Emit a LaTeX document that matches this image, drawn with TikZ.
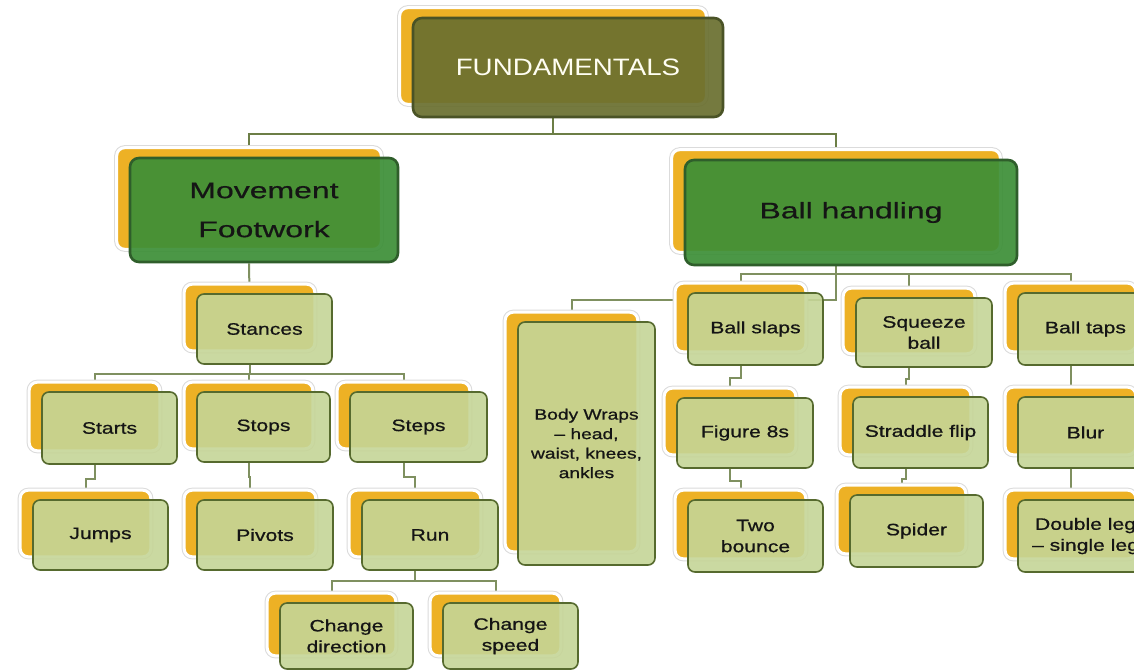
\documentclass[tikz,border=0pt]{standalone}
\usepackage{fontspec}
\setmainfont{Liberation Sans}
\newfontfamily\smallfont[FakeStretch=1.28,FakeBold=0.8]{Liberation Sans}
\newfontfamily\headfont[FakeStretch=1.42,FakeBold=0.6]{Liberation Sans}
\newfontfamily\topfont[FakeStretch=1.17]{Liberation Sans}
\usetikzlibrary{calc}

\pgfdeclarelayer{paper}
\pgfdeclarelayer{wires}
\pgfdeclarelayer{cards}
\pgfsetlayers{paper,wires,cards,main}

\definecolor{gold}{HTML}{EDB125}
\definecolor{leaf}{HTML}{C5D597}
\definecolor{leafedge}{HTML}{566A2E}
\definecolor{grass}{HTML}{3C8F37}
\definecolor{grassedge}{HTML}{2F5E2B}
\definecolor{olive}{HTML}{6A6F2F}
\definecolor{oliveedge}{HTML}{4A5326}
\definecolor{wirecol}{HTML}{7F9060}
\definecolor{topwire}{HTML}{6C7E46}
\definecolor{ink}{HTML}{151515}

\tikzset{
  x=1pt, y=-1pt,
  leafbox/.style={rectangle, rounded corners=7pt, draw=leafedge, line width=1.6pt,
    fill=leaf, fill opacity=0.9, text opacity=1, text=ink, align=center, inner sep=0pt,
    font=\smallfont\fontsize{16.5}{21}\selectfont},
  bodybox/.style={leafbox, font=\smallfont\fontsize{15}{19.5}\selectfont},
  grassbox/.style={rectangle, rounded corners=9pt, draw=grassedge, line width=2.6pt,
    fill=grass, fill opacity=0.92, text opacity=1, text=ink, align=center, inner sep=0pt,
    font=\headfont\fontsize{22.5}{39}\selectfont},
  topbox/.style={rectangle, rounded corners=9pt, draw=oliveedge, line width=2.6pt,
    fill=olive, fill opacity=0.92, text opacity=1, text=white!95!yellow, align=center, inner sep=0pt,
    font=\topfont\fontsize{23.7}{28}\selectfont},
  goldcard/.style={fill=gold, rounded corners=8pt, draw=white, line width=3pt,
    preaction={draw=black!14, line width=5pt}},
  wire/.style={draw=wirecol, line width=2pt},
  topline/.style={wire, draw=topwire},
}

% #1 style, #2 name, #3 x, #4 y, #5 width, #6 height, #7 text
\newcommand\card[7]{%
  \node[#1, minimum width=#5pt, minimum height=#6pt] (#2) at (#3,#4) {#7};
  \coordinate (#2-t) at ($(#2.north)+(-15,0)$);
  \coordinate (#2-b) at ($(#2.south)+(-15,0)$);
  \begin{pgfonlayer}{cards}
    \path[goldcard] ($(#2.north west)+(-12,-9)$) rectangle ($(#2.south east)+(-18,-14)$);
  \end{pgfonlayer}}

% stepped link from a parent's foot to a child's head
\newcommand\zlink[2]{\draw[wire] (#1-b) |- ($(#1-b)!0.4!(#2-t)$) -| (#2-t);}

\begin{document}
\begin{tikzpicture}
\useasboundingbox (0,0) rectangle (1134,670);
\begin{pgfonlayer}{paper}
  \fill[white] (0,0) rectangle (1134,670);
\end{pgfonlayer}

% top level
\card{topbox}{fund}{568}{67.5}{310}{99}{FUNDAMENTALS}
\card{grassbox}{move}{264}{210}{268}{104}{Movement\\Footwork}
\card{grassbox}{ball}{851}{212.5}{332}{105}{Ball handling}

% movement branch
\card{leafbox}{stances}{264.5}{329}{135}{70}{Stances}
\card{leafbox}{starts}{109.5}{428}{135}{72}{Starts}
\card{leafbox}{stops}{263.5}{427}{133}{70}{Stops}
\card{leafbox}{steps}{418.5}{427}{137}{70}{Steps}
\card{leafbox}{jumps}{100.5}{535}{135}{70}{Jumps}
\card{leafbox}{pivots}{265}{535}{136}{70}{Pivots}
\card{leafbox}{run}{430}{535}{136}{70}{Run}
\card{leafbox}{chdir}{346.5}{636}{133}{66}{Change\\direction}
\card{leafbox}{chspeed}{510.5}{636}{135}{66}{Change\\speed}

% ball handling branch
\card{bodybox}{body}{586.5}{443.5}{137}{243}{Body Wraps\\– head,\\waist, knees,\\ankles}
\card{leafbox}{slaps}{755.5}{329}{135}{72}{Ball slaps}
\card{leafbox}{fig}{745}{433}{136}{70}{Figure 8s}
\card{leafbox}{two}{755.5}{536}{135}{72}{Two\\bounce}
\card{leafbox}{squeeze}{924}{332.5}{136}{69}{Squeeze\\ball}
\card{leafbox}{straddle}{920.5}{432.5}{135}{71}{Straddle flip}
\card{leafbox}{spider}{916.5}{531}{133}{72}{Spider}
\card{leafbox}{taps}{1085.5}{329}{135}{72}{Ball taps}
\card{leafbox}{blur}{1085.5}{432.5}{135}{71}{Blur}
\card{leafbox}{dbl}{1085.5}{536}{135}{72}{Double leg\\– single leg}

\begin{pgfonlayer}{wires}
  \draw[topline] (fund-b) -- ++(0,16) coordinate (fj);
  \draw[topline] (move-t) |- (fj) -| (ball-t);

  \draw[wire] (move-b) -- (stances-t);
  \draw[wire] (stances-b) -- ++(0,9) coordinate (sj);
  \draw[wire] (starts-t) |- (sj) -| (steps-t);
  \draw[wire] (sj) -| (stops-t);
  \zlink{starts}{jumps}
  \zlink{stops}{pivots}
  \zlink{steps}{run}
  \draw[wire] (run-b) -- ++(0,10) coordinate (rj);
  \draw[wire] (chdir-t) |- (rj) -| (chspeed-t);

  \draw[wire] (ball-b) -- ++(0,34) -| (body-t);
  \draw[wire] (ball-b) -- ++(0,8) coordinate (bj);
  \draw[wire] (slaps-t) |- (bj) -| (taps-t);
  \draw[wire] (bj) -| (squeeze-t);
  \zlink{slaps}{fig}
  \zlink{fig}{two}
  \zlink{squeeze}{straddle}
  \zlink{straddle}{spider}
  \zlink{taps}{blur}
  \zlink{blur}{dbl}
\end{pgfonlayer}
\end{tikzpicture}
\end{document}
